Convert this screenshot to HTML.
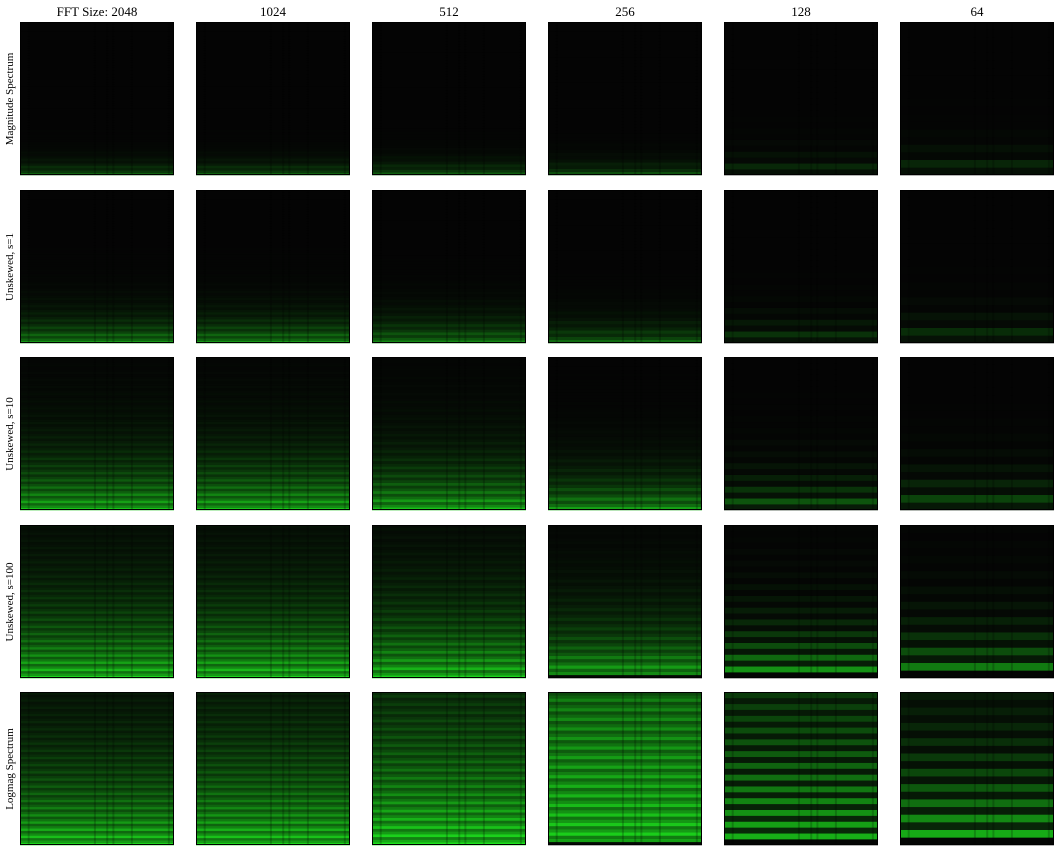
<!DOCTYPE html>
<html><head><meta charset="utf-8">
<style>
html,body{margin:0;padding:0;background:#fff;}
body{width:1060px;height:856px;position:relative;overflow:hidden;font-family:"Liberation Serif",serif;}
.title{position:absolute;top:4px;width:154px;text-align:center;font-size:13px;color:#000;}
.rowlab{position:absolute;left:10px;font-size:11px;color:#000;transform:translate(-50%,-50%) rotate(-90deg);white-space:nowrap;}
svg{position:absolute;left:0;top:0;}
</style></head>
<body>
<svg id="grid" width="1060" height="856"></svg>
<script>
const fftSizes = ["FFT Size: 2048","1024","512","256","128","64"];
const rowLabels = ["Magnitude Spectrum","Unskewed, s=1","Unskewed, s=10","Unskewed, s=100","Logmag Spectrum"];
const gain = [
 [0.55,0.55,0.55,0.5,0.4,0.4],
 [0.75,0.75,0.7,0.6,0.45,0.45],
 [0.9,0.9,0.9,0.8,0.6,0.55],
 [0.95,0.95,0.95,0.9,0.85,0.8],
 [0.95,0.95,1.0,0.95,0.85,0.9]
];
const spread = [
 [0.07,0.07,0.07,0.07,0.1,0.12],
 [0.14,0.14,0.13,0.11,0.12,0.13],
 [0.3,0.3,0.27,0.2,0.18,0.18],
 [0.45,0.45,0.42,0.33,0.28,0.26],
 [0.55,0.65,0.85,2.2,1.0,0.55]
];
const floorLevel = [0,0,0,0,0.35,0.2];
const bandCounts = [64,64,56,48,26,20];
const onsets = [0.05,0.48,0.56,0.6,0.72,0.96];

const colX = [20,196,372,548,724,900];
const rowY = [22,190,357,525,692];
const W=154, H=153;
const NS="http://www.w3.org/2000/svg";
const svg=document.getElementById('grid');

fftSizes.forEach((t,c)=>{
  const d=document.createElement('div');
  d.className='title';
  d.style.left=colX[c]+'px';
  d.textContent=t;
  
  
  document.body.appendChild(d);
});
rowLabels.forEach((t,r)=>{
  const d=document.createElement('div');
  d.className='rowlab';
  d.style.top=(rowY[r]+H/2)+'px';
  d.textContent=t;
  
  
  document.body.appendChild(d);
});

for(let r=0;r<rowLabels.length;r++){
 for(let c=0;c<fftSizes.length;c++){
  const g=document.createElementNS(NS,'g');
  
  
  const x0=colX[c], y0=rowY[r];
  const bg=document.createElementNS(NS,'rect');
  bg.setAttribute('x',x0);bg.setAttribute('y',y0);bg.setAttribute('width',W);bg.setAttribute('height',H);
  bg.setAttribute('fill','#040404');
  g.appendChild(bg);
  const n=bandCounts[c];
  const bh=H/n;
  for(let i=0;i<n;i++){
    const h=(i+0.5)/n;
    let v=gain[r][c]*Math.exp(-h/spread[r][c]);
    let mod;
    if(c>=4){ mod = (i%2===1?1:0.3); }
    else { mod = (i%3===0?1:(i%3===1?0.8:0.65)); }
    v*=mod;
    if(r===4 && c>=4) v=Math.max(v, floorLevel[c]*(i%2===1?0.8:0.45));
    if(i===0 && r>=3 && c>=3) v*=0.05;
    const vv=Math.pow(v,1.25);
    const gr=Math.round(Math.min(235,4+225*vv));
    const rr=Math.round(Math.min(40,4+25*vv));
    const bb=Math.round(Math.min(40,4+25*vv));
    const rect=document.createElementNS(NS,'rect');
    rect.setAttribute('x',x0);
    rect.setAttribute('y',(y0+H-(i+1)*bh).toFixed(2));
    rect.setAttribute('width',W);
    rect.setAttribute('height',(bh+0.3).toFixed(2));
    rect.setAttribute('fill',`rgb(${rr},${gr},${bb})`);
    
    
    g.appendChild(rect);
  }
  onsets.forEach(f=>{
    const l=document.createElementNS(NS,'rect');
    l.setAttribute('x',x0+f*W);l.setAttribute('y',y0);l.setAttribute('width',2);l.setAttribute('height',H);
    l.setAttribute('fill','#000');l.setAttribute('opacity','0.2');
    
    
    g.appendChild(l);
  });
  const br=document.createElementNS(NS,'rect');
  br.setAttribute('x',x0+0.5);br.setAttribute('y',y0+0.5);br.setAttribute('width',W-1);br.setAttribute('height',H-1);
  br.setAttribute('fill','none');br.setAttribute('stroke','#000');br.setAttribute('stroke-width','1');
  g.appendChild(br);
  svg.appendChild(g);
 }
}
</script>
</body></html>
